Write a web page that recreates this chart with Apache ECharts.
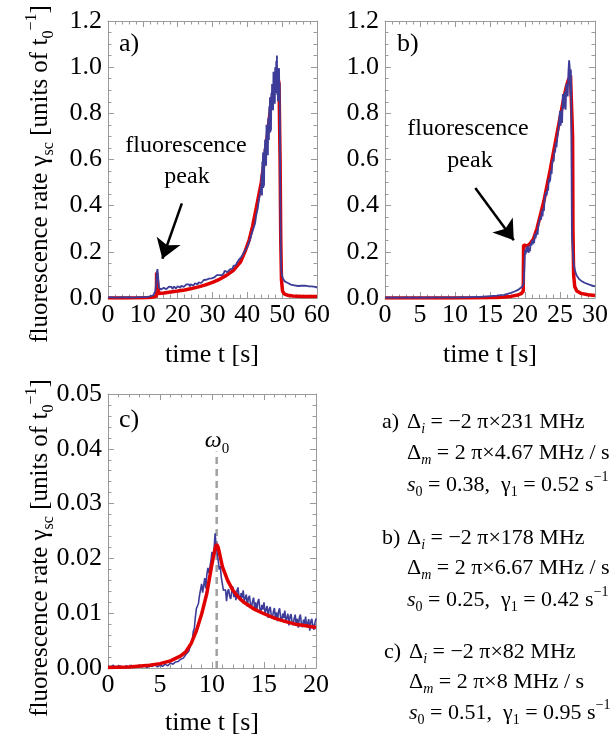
<!DOCTYPE html>
<html><head><meta charset="utf-8">
<script src="https://cdn.jsdelivr.net/npm/echarts@6/dist/echarts.min.js"></script>
<style>html,body{margin:0;padding:0;background:#fff}#c{width:614px;height:743px}</style>
</head><body><div id="c"></div>
<script>
// ---------- tick labels ----------
const xLabelsA = ['0','10','20','30','40','50','60'];
const xLabelsB = ['0','5','10','15','20','25','30'];
const xLabelsC = ['0','5','10','15','20'];
const yLabelsAB = ['0.0','0.2','0.4','0.6','0.8','1.0','1.2'];
const yLabelsC = ['0.00','0.01','0.02','0.03','0.04','0.05'];

// ---------- panel a ----------
const blueA = [
[0,0.003],[0.5,0.002],[1,0.004],[1.5,0.003],[2,0.002],[2.5,0.004],[3,0.003],[3.5,0.002],[4,0.004],[4.5,0.003],
[5,0.003],[5.5,0.002],[6,0.004],[6.5,0.003],[7,0.002],[7.5,0.004],[8,0.003],[8.5,0.003],[9,0.004],[9.5,0.003],
[10,0.004],[10.5,0.005],[11,0.004],[11.5,0.006],[12,0.007],[12.5,0.009],[13,0.012],[13.3,0.018],[13.6,0.03],[13.8,0.06],
[14,0.11],[14.2,0.125],[14.4,0.09],[14.6,0.045],[14.8,0.038],
[15,0.044],[15.25,0.037],[15.5,0.042],[15.75,0.036],[16,0.044],[16.25,0.048],[16.5,0.040],[16.75,0.038],[17,0.045],[17.25,0.042],
[17.5,0.049],[17.75,0.041],[18,0.044],[18.25,0.048],[18.5,0.039],[18.75,0.047],[19,0.050],[19.25,0.044],[19.5,0.041],[19.75,0.048],
[20,0.051],[20.25,0.045],[20.5,0.049],[20.75,0.044],[21,0.053],[21.25,0.056],[21.5,0.049],[21.75,0.048],[22,0.054],[22.25,0.052],
[22.5,0.059],[22.75,0.051],[23,0.055],[23.25,0.059],[23.5,0.050],[23.75,0.059],[24,0.061],[24.25,0.056],[24.5,0.054],[24.75,0.060],
[25,0.064],[25.25,0.058],[25.5,0.064],[25.75,0.059],[26,0.068],[26.25,0.072],[26.5,0.066],[26.75,0.065],[27,0.072],[27.25,0.070],
[27.5,0.078],[27.75,0.071],[28,0.075],[28.25,0.079],[28.5,0.072],[28.75,0.081],[29,0.084],[29.25,0.079],[29.5,0.078],[29.75,0.085],
[30,0.089],[30.25,0.084],[30.5,0.089],[30.75,0.085],[31,0.094],[31.25,0.099],[31.5,0.092],[31.75,0.092],[32,0.099],[32.25,0.098],
[32.5,0.105],[32.75,0.099],[33,0.103],[33.25,0.108],[33.5,0.118],[33.75,0.111],[34,0.116],[34.25,0.112],[34.5,0.111],[34.75,0.119],
[35,0.124],[35.25,0.121],[35.5,0.129],[35.75,0.127],[36,0.139],[36.25,0.146],[36.5,0.142],[36.75,0.143],[37,0.153],[37.25,0.154],
[37.5,0.164],[37.75,0.160],[38,0.167],[38.25,0.177],[38.5,0.174],[38.75,0.189],[39,0.198],[39.25,0.198],[39.5,0.202],[39.75,0.214],
[40,0.224],[40.25,0.226],[40.5,0.242],[40.75,0.243],[41,0.265],[41.25,0.279],[41.5,0.277],[41.75,0.284],[42,0.313],[42.25,0.326],
[42.5,0.355],[42.75,0.362],[43,0.390],[43.25,0.419],[43.5,0.423],[43.75,0.462],[44,0.488],
[44.1,0.537],[44.2,0.444],[44.3,0.591],[44.4,0.498],[44.5,0.630],[44.6,0.477],[44.7,0.579],[44.8,0.486],[44.9,0.648],[45,0.585],
[45.1,0.687],[45.2,0.579],[45.3,0.666],[45.4,0.573],[45.5,0.750],[45.6,0.642],[45.7,0.624],[45.8,0.741],[45.9,0.618],[46,0.780],
[46.1,0.777],[46.2,0.684],[46.3,0.831],[46.4,0.738],[46.5,0.870],[46.6,0.717],[46.7,0.819],[46.8,0.726],[46.9,0.888],[47,0.825],
[47.1,0.927],[47.2,0.819],[47.3,0.906],[47.4,0.813],[47.5,0.980],[47.6,0.878],[47.7,0.856],[47.8,0.969],[47.9,0.842],[48,1.000],
[48.1,0.989],[48.2,0.888],[48.3,1.027],[48.4,0.926],[48.5,1.050],[48.6,0.879],[48.7,0.963],[48.8,0.852],[48.9,0.996],[49,0.915],
[49.1,0.995],[49.2,0.865],[49.3,0.930],[49.4,0.600],[49.5,0.350],[49.6,0.200],[49.7,0.140],[49.8,0.115],[50,0.095],[50.25,0.083],
[50.5,0.077],[50.75,0.072],[51,0.069],[51.25,0.064],[51.5,0.066],[51.75,0.060],[52,0.063],[52.5,0.058],[53,0.061],[53.5,0.055],
[54,0.058],[54.5,0.052],[55,0.056],[55.5,0.053],[56,0.050],[56.5,0.054],[57,0.049],[57.5,0.051],[58,0.047],[58.5,0.050],
[59,0.046],[59.5,0.048],[60,0.045]
];
const redA = [
[0,0],[5,0.0005],[10,0.001],[12,0.002],[13,0.004],[13.9,0.008],[13.95,0.11],[14.5,0.11],[14.55,0.02],[16,0.022],
[18,0.026],[20,0.03],[22,0.035],[24,0.041],[26,0.048],[28,0.057],[30,0.068],[32,0.081],[34,0.098],[36,0.12],
[38,0.155],[39.3,0.2],[40.5,0.25],[41.5,0.31],[42.7,0.4],[44,0.5],[44.9,0.6],[45.7,0.7],[46.5,0.8],[47.3,0.88],
[48.2,0.93],[48.8,0.95],[49.1,0.93],[49.4,0.6],[49.6,0.25],[49.8,0.08],[50.1,0.03],[50.6,0.018],[51.5,0.012],[53,0.009],
[56,0.007],[60,0.006]
];
const arrowA = [[21.2,0.41],[15.6,0.17]];

// ---------- panel b ----------
const blueB = [
[0,0.002],[0.5,0.003],[1,0.002],[1.5,0.003],[2,0.002],[2.5,0.002],[3,0.003],[3.5,0.002],[4,0.003],[4.5,0.002],
[5,0.003],[5.5,0.002],[6,0.003],[6.5,0.002],[7,0.003],[7.5,0.003],[8,0.002],[8.5,0.003],[9,0.003],[9.5,0.002],
[10,0.003],[10.5,0.003],[11,0.004],[11.5,0.003],[12,0.004],[12.5,0.004],[13,0.005],[13.5,0.005],[14,0.006],[14.5,0.007],
[15,0.008],[15.5,0.009],[16,0.01],[16.5,0.012],[17,0.014],[17.5,0.018],[18,0.022],[18.5,0.028],[19,0.035],[19.3,0.042],
[19.6,0.05],[19.8,0.06],[19.9,0.12],
[20,0.209],[20.1,0.190],[20.2,0.219],[20.3,0.200],[20.4,0.226],[20.5,0.195],[20.6,0.218],[20.7,0.202],[20.8,0.237],[20.9,0.227],
[21,0.250],[21.1,0.232],[21.2,0.253],[21.3,0.238],[21.4,0.277],[21.5,0.259],[21.6,0.262],[21.7,0.292],[21.8,0.274],[21.9,0.313],
[22,0.320],[22.1,0.308],[22.2,0.352],[22.3,0.339],[22.4,0.379],[22.5,0.353],[22.6,0.388],[22.7,0.377],[22.8,0.426],[22.9,0.423],
[23,0.458],[23.1,0.444],[23.2,0.475],[23.3,0.465],[23.4,0.517],[23.5,0.503],[23.6,0.512],[23.7,0.553],[23.8,0.537],[23.9,0.588],
[24,0.601],[24.1,0.592],[24.2,0.640],[24.3,0.631],[24.4,0.675],[24.5,0.653],[24.6,0.692],[24.7,0.685],[24.8,0.738],[24.9,0.739],
[25,0.810],[25.1,0.746],[25.2,0.812],[25.3,0.758],[25.4,0.884],[25.5,0.820],[25.6,0.812],[25.7,0.894],[25.8,0.816],[25.9,0.928],
[26,0.930],[26.1,0.873],[26.2,0.977],[26.3,1.030],[26.4,0.993],[26.5,0.877],[26.55,0.990],[26.6,0.900],
[26.7,0.27],[26.8,0.22],[26.9,0.17],[27,0.14],[27.2,0.112],[27.4,0.096],[27.7,0.083],[28,0.075],[28.5,0.066],[29,0.060],
[29.5,0.055],[30,0.050]
];
const redB = [
[0,0],[10,0.0005],[14,0.001],[16,0.002],[17,0.004],[18,0.007],[19,0.013],[19.5,0.02],[19.75,0.03],[19.8,0.23],
[20.3,0.225],[20.7,0.235],[21.2,0.255],[21.7,0.3],[22.2,0.36],[22.7,0.42],[23.1,0.48],[23.6,0.555],[24,0.62],[24.5,0.7],
[25,0.78],[25.5,0.86],[25.9,0.915],[26.2,0.945],[26.5,0.965],[26.7,0.96],[26.8,0.7],[26.85,0.3],[26.95,0.1],[27.1,0.05],
[27.4,0.03],[28,0.02],[29,0.014],[30,0.011]
];
const arrowB = [[12.9,0.477],[18.4,0.25]];

// ---------- panel c ----------
const blueC = [
[0,0.0004],[0.25,0.0002],[0.5,0.0005],[0.75,0.0001],[1,0.0004],[1.25,0.0003],[1.5,0.0],[1.75,0.0004],[2,0.0002],[2.25,0.0005],
[2.5,0.0001],[2.75,0.0003],[3,0.0005],[3.25,0.0002],[3.5,0.0004],[3.75,0.0001],[4,0.0004],[4.25,0.0003],[4.5,0.0006],[4.75,0.0002],
[5,0.0005],[5.25,0.0003],[5.5,0.0007],[5.75,0.0004],[6,0.0009],[6.25,0.0007],[6.5,0.0011],[6.75,0.0012],[7,0.0016],[7.25,0.0018],
[7.5,0.0025],[7.75,0.003],
[8,0.00448],[8.1,0.00489],[8.2,0.00668],[8.3,0.00721],[8.4,0.0093],[8.5,0.01085],[8.6,0.01132],[8.7,0.01183],[8.8,0.01324],[8.9,0.01338],
[9,0.01535],[9.1,0.01375],[9.2,0.015],[9.3,0.0164],[9.4,0.0145],[9.5,0.01695],[9.6,0.01825],[9.7,0.0173],[9.8,0.0174],[9.9,0.0196],
[10,0.0212],[10.1,0.01977],[10.2,0.02178],[10.3,0.0246],[10.4,0.02225],[10.5,0.0225],[10.6,0.01955],[10.7,0.01795],[10.8,0.0186],[10.9,0.01645],
[11,0.01667],[11.1,0.01418],[11.2,0.01417],[11.3,0.01428],[11.4,0.0122],[11.5,0.01389],[11.6,0.01441],[11.7,0.01306],[11.8,0.01261],[11.9,0.01399],
[12,0.01484],[12.1,0.01294],[12.2,0.01403],[12.3,0.01239],[12.4,0.01413],[12.5,0.0147],[12.6,0.01293],[12.7,0.01233],[12.8,0.01368],[12.9,0.01282],
[13,0.01417],[13.1,0.01223],[13.2,0.01276],[13.3,0.01342],[13.4,0.01122],[13.5,0.01279],[13.6,0.01319],[13.7,0.01164],[13.8,0.011],[13.9,0.01218],
[14,0.01284],[14.1,0.01092],[14.2,0.01199],[14.3,0.01033],[14.4,0.01205],[14.5,0.0126],[14.6,0.01081],[14.7,0.01019],[14.8,0.01152],[14.9,0.01064],
[15,0.01197],[15.1,0.01006],[15.2,0.01062],[15.3,0.01131],[15.4,0.00914],[15.5,0.01074],[15.6,0.01117],[15.7,0.00965],[15.8,0.00904],[15.9,0.01025],
[16,0.01094],[16.1,0.00906],[16.2,0.01017],[16.3,0.00855],[16.4,0.01031],[16.5,0.0109],[16.6,0.00915],[16.7,0.00857],[16.8,0.00994],[16.9,0.0091],
[17,0.01047],[17.1,0.00859],[17.2,0.00918],[17.3,0.0099],[17.4,0.00776],[17.5,0.00939],[17.6,0.00985],[17.7,0.00836],[17.8,0.00778],[17.9,0.00902],
[18,0.00974],[18.1,0.00787],[18.2,0.00899],[18.3,0.00738],[18.4,0.00915],[18.5,0.00975],[18.6,0.00801],[18.7,0.00744],[18.8,0.00882],[18.9,0.00799],
[19,0.00937],[19.1,0.00753],[19.2,0.00816],[19.3,0.00892],[19.4,0.00682],[19.5,0.00849],[19.6,0.00899],[19.7,0.00754],[19.8,0.007],[19.9,0.00828],
[20,0.00904]
];
const redC = [
[0,0.0001],[2,0.0002],[4,0.0005],[5,0.0008],[6,0.0013],[7,0.0022],[7.5,0.003],[8,0.0045],[8.5,0.0068],[9,0.0098],
[9.5,0.0136],[10,0.019],[10.3,0.0218],[10.45,0.0226],[10.6,0.022],[11,0.0185],[11.5,0.016],[12,0.0142],[12.5,0.013],[13,0.0121],
[14,0.0108],[15,0.0099],[16,0.0091],[17,0.0085],[18,0.008],[19,0.0077],[20,0.0074]
];
const omegaLine = [[10.45,0],[10.45,0.0395]];

// ---------- styles ----------
const SERIF = '"Liberation Serif","Times New Roman","DejaVu Serif",serif';
const FRAME = '#9a9a9a';
const RED = '#e00000';
const BLUE = '#3d3d99';

function richFor(size) {
  const s = Math.round(size * 0.64);
  return {
    sub: {fontFamily: SERIF, fontSize: s, lineHeight: s, verticalAlign: 'bottom', fill: '#000'},
    isub: {fontFamily: SERIF, fontSize: s, lineHeight: s, verticalAlign: 'bottom', fontStyle: 'italic', fill: '#000'},
    sup: {fontFamily: SERIF, fontSize: s, lineHeight: s, verticalAlign: 'top', fill: '#000'},
    it: {fontFamily: SERIF, fontSize: size, lineHeight: Math.round(size * 1.3), fontStyle: 'italic', fill: '#000'}
  };
}
function txt(x, y, text, size, align, rot) {
  return {
    type: 'text', x: x, y: y, rotation: rot || 0, silent: true,
    style: {
      text: text, fill: '#000', fontFamily: SERIF, fontSize: size,
      lineHeight: Math.round(size * 1.3),
      align: align || 'center', verticalAlign: 'middle', rich: richFor(size)
    }
  };
}

function axis(grid, min, max, interval, minor, pos, labels) {
  return {
    type: 'value', gridIndex: grid, min: min, max: max, interval: interval, position: pos,
    axisLine: {show: true, onZero: false, lineStyle: {color: FRAME, width: 1}},
    axisTick: {show: true, inside: true, length: 6, lineStyle: {color: FRAME, width: 1}},
    minorTick: {show: true, splitNumber: minor, length: 3.5, lineStyle: {color: FRAME, width: 1}},
    splitLine: {show: false}, minorSplitLine: {show: false},
    axisLabel: {
      show: !!labels, color: '#000', fontFamily: SERIF, fontSize: 26,
      margin: (pos === 'left') ? 6 : 4,
      formatter: labels ? function (v) { return labels[Math.round((v - min) / interval)]; } : undefined
    }
  };
}

const grids = [
  {left: 108, top: 21, width: 209, height: 277, outerBoundsMode: 'none', containLabel: false},
  {left: 385, top: 21, width: 210, height: 277, outerBoundsMode: 'none', containLabel: false},
  {left: 108, top: 394, width: 208, height: 274, outerBoundsMode: 'none', containLabel: false}
];

const xAxes = [
  axis(0, 0, 60, 10, 5, 'bottom', xLabelsA),
  axis(1, 0, 30, 5, 5, 'bottom', xLabelsB),
  axis(2, 0, 20, 5, 5, 'bottom', xLabelsC),
  axis(0, 0, 60, 10, 5, 'top', null),
  axis(1, 0, 30, 5, 5, 'top', null),
  axis(2, 0, 20, 5, 5, 'top', null)
];
const yAxes = [
  axis(0, 0, 1.2, 0.2, 4, 'left', yLabelsAB),
  axis(1, 0, 1.2, 0.2, 4, 'left', yLabelsAB),
  axis(2, 0, 0.05, 0.01, 5, 'left', yLabelsC),
  axis(0, 0, 1.2, 0.2, 4, 'right', null),
  axis(1, 0, 1.2, 0.2, 4, 'right', null),
  axis(2, 0, 0.05, 0.01, 5, 'right', null)
];

function lineSeries(idx, data, color, width, z) {
  return {
    type: 'line', xAxisIndex: idx, yAxisIndex: idx, data: data, showSymbol: false, symbol: 'none',
    lineStyle: {color: color, width: width}, z: z, silent: true, animation: false, clip: true
  };
}
function arrowMark(pts) {
  return {
    silent: true, symbol: ['none', 'arrow'], symbolSize: 19,
    label: {show: false}, emphasis: {disabled: true},
    lineStyle: {color: '#000', width: 2.5, type: 'solid'},
    itemStyle: {color: '#000'},
    data: [[{coord: pts[0]}, {coord: pts[1]}]], animation: false
  };
}

const sA = lineSeries(0, blueA, BLUE, 1.8, 3); sA.markLine = arrowMark(arrowA);
const sB = lineSeries(1, blueB, BLUE, 1.8, 3); sB.markLine = arrowMark(arrowB);
const omega = lineSeries(2, omegaLine, '#a0a0a0', 2.5, 1); omega.lineStyle.type = [7, 5];

const series = [
  lineSeries(0, redA, RED, 3.5, 2), sA,
  lineSeries(1, redB, RED, 3.5, 2), sB,
  omega, lineSeries(2, blueC, BLUE, 1.6, 2), lineSeries(2, redC, RED, 3.5, 3)
];

const yTitle = 'fluorescence rate γ{sub|sc} [units of t{sub|0}{sup|−1}]';
const graphics = [
  txt(40, 174, yTitle, 25, 'center', Math.PI / 2),
  txt(40, 548, yTitle, 25, 'center', Math.PI / 2),
  txt(212, 355, 'time t [s]', 26),
  txt(490, 355, 'time t [s]', 26),
  txt(212, 723, 'time t [s]', 26),
  txt(119, 44, 'a)', 26, 'left'),
  txt(397, 44, 'b)', 26, 'left'),
  txt(119, 420, 'c)', 26, 'left'),
  txt(186, 146, 'fluorescence', 24),
  txt(187, 177, 'peak', 24),
  txt(468, 129, 'fluorescence', 24),
  txt(470, 161, 'peak', 24),
  txt(217, 441, '{it|ω}{sub|0}', 24),
  // parameter blocks
  txt(382, 422, 'a)', 22, 'left'),
  txt(407, 422, 'Δ{isub|i} = −2 π×231 MHz', 22, 'left'),
  txt(407, 453, 'Δ{isub|m} = 2 π×4.67 MHz / s', 22, 'left'),
  txt(407, 485, '{it|s}{sub|0} = 0.38,  γ{sub|1} = 0.52 s{sup|−1}', 22, 'left'),
  txt(382, 538, 'b)', 22, 'left'),
  txt(407, 538, 'Δ{isub|i} = −2 π×178 MHz', 22, 'left'),
  txt(407, 568, 'Δ{isub|m} = 2 π×6.67 MHz / s', 22, 'left'),
  txt(407, 600, '{it|s}{sub|0} = 0.25,  γ{sub|1} = 0.42 s{sup|−1}', 22, 'left'),
  txt(384, 652, 'c)', 22, 'left'),
  txt(409, 652, 'Δ{isub|i} = −2 π×82 MHz', 22, 'left'),
  txt(409, 682, 'Δ{isub|m} = 2 π×8 MHz / s', 22, 'left'),
  txt(409, 713, '{it|s}{sub|0} = 0.51,  γ{sub|1} = 0.95 s{sup|−1}', 22, 'left')
];

const chart = echarts.init(document.getElementById('c'), null, {renderer: 'canvas'});
chart.setOption({
  animation: false,
  backgroundColor: '#fff',
  grid: grids,
  xAxis: xAxes,
  yAxis: yAxes,
  series: series,
  graphic: {elements: graphics}
});
</script>
</body></html>
